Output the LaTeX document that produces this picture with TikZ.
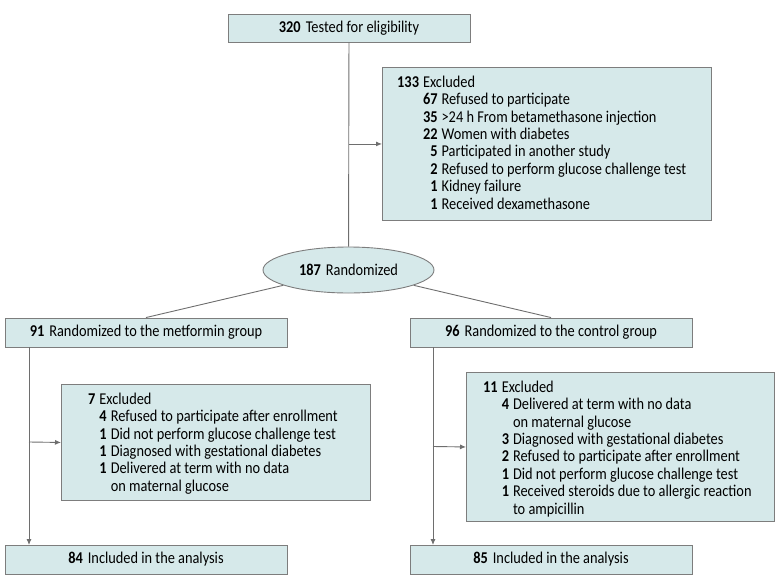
\documentclass[tikz,border=0pt]{standalone}
\usepackage{fontspec}
\setmainfont{Carlito}[FakeStretch=0.87]
\usetikzlibrary{arrows.meta,shapes.geometric}
\definecolor{boxfill}{RGB}{214,233,234}
\definecolor{boxdraw}{RGB}{125,125,125}
\definecolor{linec}{RGB}{110,110,110}
\newcommand{\nb}[1]{\textbf{#1}\hspace{5pt}}
\begin{document}
\begin{tikzpicture}[x=1pt,y=-1pt,
  font=\fontsize{16.5}{17.4}\selectfont,
  box/.style={draw=boxdraw,fill=boxfill,line width=0.9pt,inner sep=0pt},
  lst/.style={anchor=north west,inner sep=0pt,align=left},
  conn/.style={draw=linec,line width=0.9pt},
  arr/.style={conn,-{Latex[length=6pt,width=5pt]}}]
\useasboundingbox (0,0) rectangle (780,587);
% boxes
\node[box,minimum width=242pt,minimum height=28pt] (top) at (349,28) {\nb{320}Tested for eligibility};
\node[box,minimum width=329pt,minimum height=153pt,anchor=north west] (exa) at (382,67) {};
\node[box,ellipse,minimum width=171pt,minimum height=46pt] (rand) at (348.5,270) {\nb{187}Randomized};
\node[box,minimum width=282pt,minimum height=29pt] (met) at (146,332.5) {\nb{91}Randomized to the metformin group};
\node[box,minimum width=282pt,minimum height=29pt] (ctl) at (551,332.5) {\nb{96}Randomized to the control group};
\node[box,minimum width=309pt,minimum height=116pt,anchor=north west] (exb) at (61,384) {};
\node[box,minimum width=308pt,minimum height=149pt,anchor=north west] (exc) at (466,372) {};
\node[box,minimum width=282pt,minimum height=29pt] (inb) at (146,559.5) {\nb{84}Included in the analysis};
\node[box,minimum width=282pt,minimum height=29pt] (inc) at (551,559.5) {\nb{85}Included in the analysis};
% list texts
\node[lst] (exat) at (397,75) {\begin{tabular}{@{}r@{\hspace{4pt}}r@{\hspace{4pt}}l@{}}
\textbf{133} & \multicolumn{2}{@{}l@{}}{Excluded}\\
 & \textbf{67} & Refused to participate\\
 & \textbf{35} & >24 h From betamethasone injection\\
 & \textbf{22} & Women with diabetes\\
 & \textbf{5} & Participated in another study\\
 & \textbf{2} & Refused to perform glucose challenge test\\
 & \textbf{1} & Kidney failure\\
 & \textbf{1} & Received dexamethasone
\end{tabular}};
\node[lst] (exbt) at (88,392) {\begin{tabular}{@{}r@{\hspace{4pt}}r@{\hspace{4pt}}l@{}}
\textbf{7} & \multicolumn{2}{@{}l@{}}{Excluded}\\
 & \textbf{4} & Refused to participate after enrollment\\
 & \textbf{1} & Did not perform glucose challenge test\\
 & \textbf{1} & Diagnosed with gestational diabetes\\
 & \textbf{1} & Delivered at term with no data\\
 & & on maternal glucose
\end{tabular}};
\node[lst] (exct) at (483,380) {\begin{tabular}{@{}r@{\hspace{4pt}}r@{\hspace{4pt}}l@{}}
\textbf{11} & \multicolumn{2}{@{}l@{}}{Excluded}\\
 & \textbf{4} & Delivered at term with no data\\
 & & on maternal glucose\\
 & \textbf{3} & Diagnosed with gestational diabetes\\
 & \textbf{2} & Refused to participate after enrollment\\
 & \textbf{1} & Did not perform glucose challenge test\\
 & \textbf{1} & Received steroids due to allergic reaction\\
 & & to ampicillin
\end{tabular}};
% connectors
\coordinate (ja) at (top.south |- exa.west);
\draw[conn] (top) -- (rand);
\draw[arr] (ja) -- (exa.west);
\draw[conn] (rand) -- (met.north);
\draw[conn] (rand) -- (ctl.north);
\coordinate (mb) at (29,347);
\coordinate (mi) at (29,545);
\coordinate (mj) at (29,442);
\draw[arr] (mb) -- (mi);
\draw[arr] (mj) -- (exb.west);
\coordinate (cb) at (433,347);
\coordinate (ci) at (433,545);
\coordinate (cj) at (433,446.5);
\draw[arr] (cb) -- (ci);
\draw[arr] (cj) -- (exc.west);
\end{tikzpicture}
\end{document}
